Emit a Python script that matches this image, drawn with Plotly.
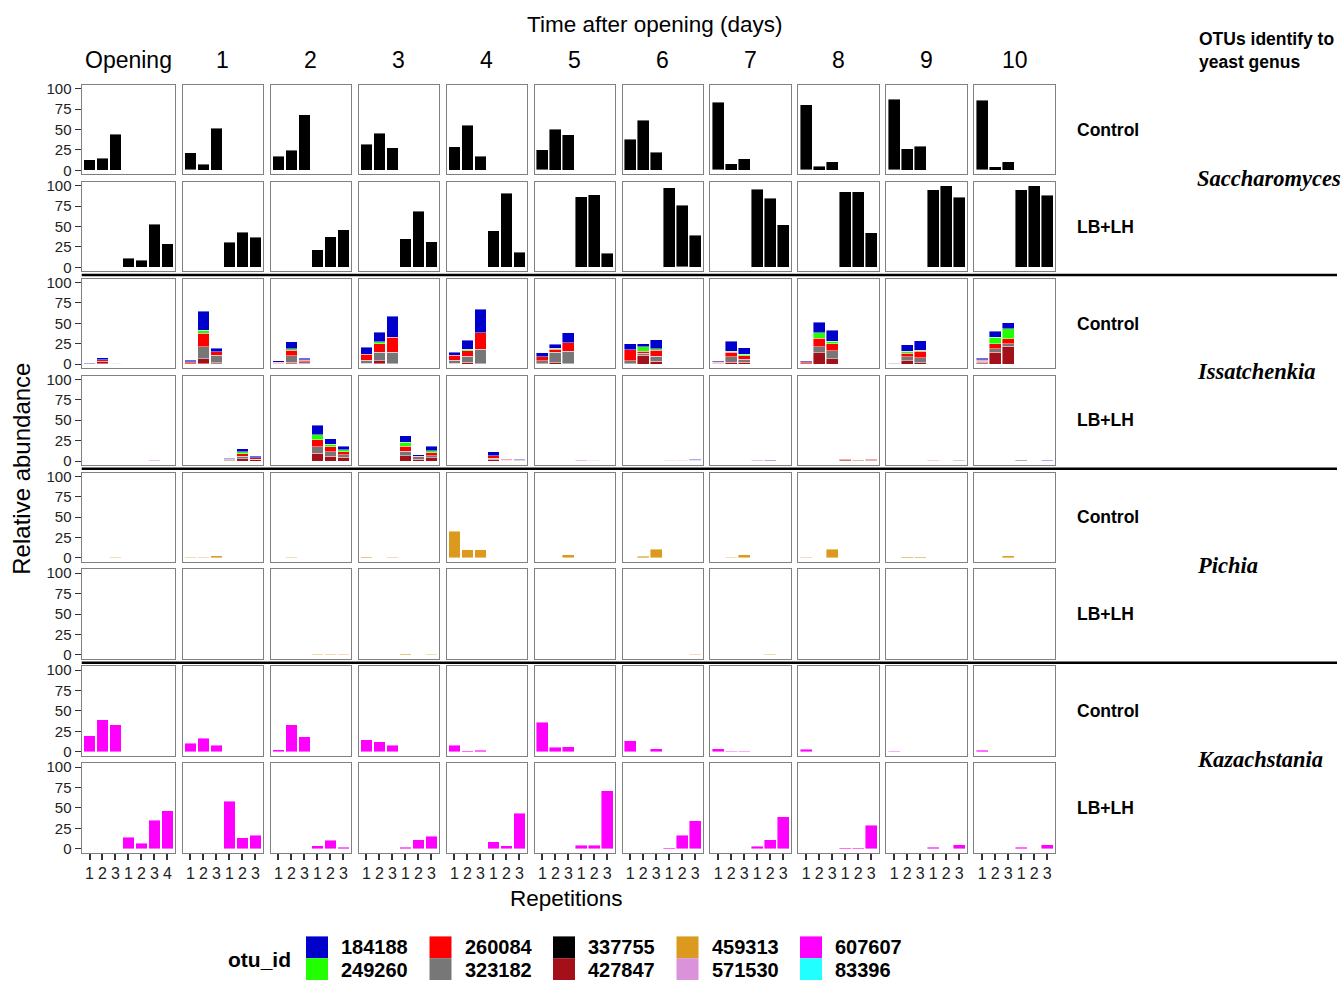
import plotly.graph_objects as go

W, H = 1344, 984

days = ["Opening", "1", "2", "3", "4", "5", "6", "7", "8", "9", "10"]
treatments = ["Control", "LB+LH"]
genera = ["Saccharomyces", "Issatchenkia", "Pichia", "Kazachstania"]

otu_ids = ["184188", "249260", "260084", "323182", "337755",
           "427847", "459313", "571530", "607607", "83396"]
otu_colors = ["#0000CC", "#22FF00", "#FF0000", "#777777", "#000000",
              "#A3101A", "#DB9A1E", "#DA93DA", "#FF00FF", "#22FFFF"]

# ---- Saccharomyces (one value list per day: replicates) ----
sacch_ctrl_337755 = [
    [13, 15, 44], [21, 7.6, 51.5], [17.3, 24.5, 68], [32, 45.4, 27.7],
    [28.9, 55, 17.3], [24.9, 50.2, 43.4], [37.8, 61.4, 22.1], [83.1, 8, 14.5],
    [79.9, 5.2, 10.4], [86.3, 26.5, 29.7], [85.5, 4.4, 10.4],
]
sacch_lblh_337755 = [
    [10.8, 8.4, 52.6, 28.9], [30.5, 43, 37], [21.3, 37.3, 45.8], [35, 68.3, 31.3],
    [44.6, 90.8, 18.5], [86.3, 88.8, 16.9], [97.6, 75.5, 39], [95.6, 84.3, 51.8],
    [92.4, 92.4, 42.2], [95.2, 99.6, 85.5], [94.8, 99.6, 88],
]
sacch_ctrl_83396 = [
    [0, 0, 0], [0.6, 0, 0], [0, 0, 0], [0, 0, 0], [0, 0, 0], [0.6, 0, 0],
    [0, 0, 0], [0.6, 0, 0], [0.6, 0, 0], [0.6, 0, 0], [0.6, 0, 0],
]
sacch_lblh_83396 = [
    [0, 0, 0, 0], [0, 0, 0], [0, 0, 0], [0, 0, 0], [0, 0, 0], [0, 0, 0],
    [0, 0.6, 0], [0, 0, 0], [0, 0, 0], [0, 0, 0], [0, 0, 0],
]

# ---- Issatchenkia ----
iss_ctrl_184188 = [
    [0.3, 2.5, 0], [2, 23.3, 4.3], [1.5, 8.4, 1.9], [8.5, 12, 26], [3.7, 11.6, 28.5],
    [4.8, 4.9, 12], [7.5, 3.4, 11.2], [1.2, 12, 8], [1.5, 12.9, 13.3],
    [0.5, 7.6, 12], [1.5, 7.2, 7.2],
]
iss_ctrl_249260 = [
    [0, 0, 0], [0, 3.6, 0], [0, 1.5, 0.3], [0, 2, 0], [0, 1.6, 0], [0, 1.5, 0],
    [0, 5.6, 1.6], [0, 1.2, 1.6], [0, 6.8, 2.8], [0, 2.4, 1.2], [0.5, 7.6, 12.4],
]
iss_ctrl_260084 = [
    [0, 2, 0.3], [1, 16.5, 4], [0.6, 7, 2], [7, 11, 18.5], [6.5, 6.8, 20.5],
    [5.2, 3.5, 10.4], [13.7, 2.4, 7.6], [0.5, 5.6, 4.4], [1.3, 10.4, 8.8],
    [0, 4.4, 8], [1.2, 6.4, 5.6],
]
iss_ctrl_323182 = [
    [0, 0, 0], [0.5, 14.9, 9.5], [0.5, 8, 2], [4, 10, 14], [3.5, 7.2, 17.7],
    [3.6, 13, 15.7], [3.7, 2.8, 6], [0.5, 6.8, 3.6], [0, 7.6, 10],
    [0, 5.2, 6], [1.5, 4, 3.6],
]
iss_ctrl_427847 = [
    [0, 3, 0], [1, 6, 1], [1, 2, 1], [0.7, 4, 0], [0.7, 2.4, 0], [0, 1.5, 0],
    [0, 10.8, 3.6], [1, 2.4, 2.4], [1, 13.7, 6.4], [0.7, 4, 1.6], [2, 14.9, 21.7],
]
iss_ctrl_571530 = [
    [0.8, 0.5, 1], [0.5, 0.5, 0.5], [0.3, 0.3, 0], [0.3, 0.3, 0.5], [0.3, 0, 0.5],
    [0.4, 0, 0.3], [0.3, 0, 0], [0.3, 0, 0], [0.5, 0, 0], [0.7, 0, 0], [0.3, 0, 0],
]
iss_lblh_184188 = [
    [0, 0, 0, 0], [0.6, 4, 1.6], [12, 6.8, 4.4], [7.6, 1.6, 5.6], [4.8, 0.8, 0.4],
    [0, 0.5, 0], [0.3, 0.3, 0.6], [0, 0.3, 0], [0, 0, 0.3], [0.3, 0, 0], [0, 0, 0.3],
]
iss_lblh_249260 = [
    [0, 0, 0, 0], [0, 2, 0], [5.6, 3.2, 2.4], [4.8, 0, 2.8], [0.3, 0, 0],
    [0, 0, 0], [0, 0, 0], [0, 0, 0], [0, 0, 0.8], [0, 0, 0], [0, 0, 0],
]
iss_lblh_260084 = [
    [0, 0, 0, 0], [0.5, 3.6, 2], [8.8, 6, 4], [6.4, 1, 3.6], [3, 0.8, 0],
    [0, 0, 0], [0.3, 0.3, 0.6], [0, 0, 0], [0.6, 0, 1], [0, 0, 0], [0, 0, 0],
]
iss_lblh_323182 = [
    [0, 0, 0, 0], [1.5, 2.8, 0.5], [8, 5.6, 3.2], [5.2, 2.5, 2.4], [1.5, 0.4, 0.8],
    [0, 0.3, 0], [0, 0, 0], [0, 0, 0], [0, 0, 0], [0, 0, 0.6], [0.9, 0, 0],
]
iss_lblh_427847 = [
    [0, 0, 0, 0], [1, 2.8, 1.5], [9.6, 6, 4.4], [6.8, 2.5, 4], [2, 0.8, 0.4],
    [0, 0, 0], [0, 0, 0], [0, 0, 0], [1, 0.3, 1], [0.6, 0, 0], [0, 0, 0],
]
iss_lblh_571530 = [
    [0, 0, 0.8, 0], [0, 0, 0], [0, 0, 0], [0, 0, 0], [0, 0, 0.4],
    [0.8, 0.5, 0.6], [0.6, 0.6, 0.8], [0.8, 0.5, 0.6], [0.4, 0.5, 0],
    [0.6, 0.4, 0.6], [0.6, 0.3, 0.6],
]

# ---- Pichia ----
pichia_ctrl_459313 = [
    [0.5, 0.3, 0.8], [0.8, 0.8, 3], [0, 0.8, 0.3], [1.2, 0.3, 0.6], [33, 10.2, 10.2],
    [0.5, 0.3, 3.8], [0.2, 2.2, 10.6], [0.3, 0.8, 3.8], [0.8, 0.2, 10.6],
    [0, 1.2, 1.2], [0.3, 0.3, 3],
]
pichia_lblh_459313 = [
    [0, 0, 0, 0], [0, 0, 0.3], [0.8, 0.5, 0.8], [1.2, 0.3, 0.5], [0, 0, 0.2],
    [0, 0.2, 0], [0.3, 0.3, 0.8], [0.3, 0.8, 0], [0, 0.2, 0.4], [0, 0.3, 0], [0, 0, 0],
]

# ---- Kazachstania ----
kaz_ctrl_607607 = [
    [19.4, 39.5, 33], [10.2, 16.6, 7.8], [2.5, 33, 18.2], [15, 12.2, 7.8],
    [8.2, 1.3, 2.1], [36.3, 5.7, 6.1], [13.8, 0.3, 3.7], [3.7, 0.5, 0.5],
    [2.9, 0.2, 0], [0.8, 0, 0], [1.7, 0, 0],
]
kaz_lblh_607607 = [
    [13.9, 6.7, 34.8, 46.5], [58.1, 13.5, 16.7], [3.5, 10.3, 1.9], [1.9, 11.1, 15.5],
    [8.3, 3.5, 43.6], [4.3, 4.3, 71], [1.1, 16.7, 34.4], [2.7, 10.7, 39.2],
    [1.1, 1.1, 28.8], [1.5, 0, 4.7], [1.5, 0, 5.1],
]

# panel rows: (genus, treatment, {otu: values per day})
panel_rows = [
    ("Saccharomyces", "Control", {"337755": sacch_ctrl_337755, "83396": sacch_ctrl_83396}),
    ("Saccharomyces", "LB+LH", {"337755": sacch_lblh_337755, "83396": sacch_lblh_83396}),
    ("Issatchenkia", "Control", {"184188": iss_ctrl_184188, "249260": iss_ctrl_249260,
                                 "260084": iss_ctrl_260084, "323182": iss_ctrl_323182,
                                 "427847": iss_ctrl_427847, "571530": iss_ctrl_571530}),
    ("Issatchenkia", "LB+LH", {"184188": iss_lblh_184188, "249260": iss_lblh_249260,
                               "260084": iss_lblh_260084, "323182": iss_lblh_323182,
                               "427847": iss_lblh_427847, "571530": iss_lblh_571530}),
    ("Pichia", "Control", {"459313": pichia_ctrl_459313}),
    ("Pichia", "LB+LH", {"459313": pichia_lblh_459313}),
    ("Kazachstania", "Control", {"607607": kaz_ctrl_607607}),
    ("Kazachstania", "LB+LH", {"607607": kaz_lblh_607607}),
]

n_lblh_reps = [4] + [3] * 10
y_ticks = [0, 25, 50, 75, 100]

# ---- geometry (pixels) ----
left0, gap, w6 = 81.7, 7.4, 80.57
w7 = w6 * 7.2 / 6.2
top0, pitch, ph = 80.7, 97.8, 90.3
y_range = [-5, 104.6]

col_spans = []
xc = left0
for c in range(len(days)):
    w = w7 if c == 0 else w6
    col_spans.append((xc, xc + w))
    xc += w + gap

def fx(px):
    return px / W

def fy(px):
    return 1 - px / H

FONT = "Liberation Sans"
BORDER = "#808080"
TICKC = "#333333"

fig = go.Figure()
layout_axes = {}
color_of = dict(zip(otu_ids, otu_colors))

for r, (genus, treat, series) in enumerate(panel_rows):
    top = top0 + r * pitch
    for c, day in enumerate(days):
        k = r * len(days) + c + 1
        sx = "" if k == 1 else str(k)
        ctrl_cats = ["Control %d" % i for i in (1, 2, 3)]
        lblh_cats = ["LB+LH %d" % i for i in range(1, n_lblh_reps[c] + 1)]
        cats = ctrl_cats + lblh_cats
        labels = ["1", "2", "3"] + [str(i) for i in range(1, n_lblh_reps[c] + 1)]
        bar_cats = ctrl_cats if treat == "Control" else lblh_cats
        # empty placeholder so every panel frame is drawn, even without bars
        fig.add_trace(go.Scatter(x=cats, y=[None] * len(cats), mode="markers",
                                 xaxis="x" + sx, yaxis="y" + sx,
                                 showlegend=False, hoverinfo="skip"))
        # ggplot stacks the first factor level on top: add in reverse order
        for otu in reversed(otu_ids):
            if otu not in series:
                continue
            vals = [v if v > 0 else None for v in series[otu][c]]
            if all(v is None for v in vals):
                continue
            fig.add_trace(go.Bar(
                x=bar_cats, y=vals, width=0.9,
                marker=dict(color=color_of[otu],
                            line=dict(color="rgba(255,255,255,0.85)", width=0.5)),
                xaxis="x" + sx, yaxis="y" + sx,
                showlegend=False, hoverinfo="skip",
            ))
        x0, x1 = col_spans[c]
        bottom_row = (r == len(panel_rows) - 1)
        layout_axes["xaxis" + sx] = dict(
            domain=[fx(x0), fx(x1)], anchor="y" + sx,
            type="category", categoryorder="array", categoryarray=cats,
            range=[-0.6, len(cats) - 0.4],
            showline=True, mirror=True, linecolor=BORDER, linewidth=1.3,
            showgrid=False, zeroline=False, fixedrange=True,
            tickmode="array", tickvals=cats, ticktext=labels,
            ticks="outside" if bottom_row else "",
            ticklen=6, tickwidth=1.6, tickcolor=TICKC,
            showticklabels=bottom_row,
            tickfont=dict(family=FONT, size=16, color="#222222"),
        )
        layout_axes["yaxis" + sx] = dict(
            domain=[fy(top + ph), fy(top)], anchor="x" + sx,
            range=y_range,
            showline=True, mirror=True, linecolor=BORDER, linewidth=1.3,
            showgrid=False, zeroline=False, fixedrange=True,
            tickmode="array", tickvals=y_ticks,
            ticks="outside" if c == 0 else "",
            ticklen=6, tickwidth=1.2, tickcolor=TICKC,
            showticklabels=(c == 0),
            tickfont=dict(family=FONT, size=15, color="#222222"),
        )

annotations = []
shapes = []

# title and column strips
annotations.append(dict(text="Time after opening (days)", x=fx(655), y=fy(20),
                        font=dict(size=22.5)))
for c, day in enumerate(days):
    x0, x1 = col_spans[c]
    annotations.append(dict(text=day, x=fx((x0 + x1) / 2), y=fy(56), font=dict(size=23)))

# row labels
for r, (genus, treat, _) in enumerate(panel_rows):
    yc = top0 + r * pitch + ph / 2
    annotations.append(dict(text="<b>%s</b>" % treat, x=fx(1075), y=fy(yc),
                            xanchor="left", font=dict(size=17.5)))

# genus labels and group separators
for g, genus in enumerate(genera):
    y_top = top0 + 2 * g * pitch
    yc = (y_top + y_top + pitch + ph) / 2
    annotations.append(dict(text="<b><i>%s</i></b>" % genus, x=fx(1195), y=fy(yc),
                            xanchor="left",
                            font=dict(family="Liberation Serif", size=22.5)))
    if g > 0:
        ys = y_top - (pitch - ph) / 2
        shapes.append(dict(type="line", xref="paper", yref="paper",
                           x0=fx(left0), x1=fx(1337), y0=fy(ys), y1=fy(ys),
                           line=dict(color="black", width=2.5)))

annotations.append(dict(text="<b>OTUs identify to</b>", x=fx(1197), y=fy(34),
                        xanchor="left", font=dict(size=17.5)))
annotations.append(dict(text="<b>yeast genus</b>", x=fx(1197), y=fy(58),
                        xanchor="left", font=dict(size=17.5)))

# axis titles
annotations.append(dict(text="Relative abundance", x=fx(22), y=fy(468),
                        textangle=-90, font=dict(size=24)))
annotations.append(dict(text="Repetitions", x=fx(566), y=fy(902), font=dict(size=22.5)))

# legend for the OTU fill colours
annotations.append(dict(text="<b>otu_id</b>", x=fx(293), y=fy(963), xanchor="right",
                        font=dict(size=21)))
sw = 22
for i, (otu, col) in enumerate(zip(otu_ids, otu_colors)):
    lc, lr = divmod(i, 2)
    sx0 = 306 + lc * 123.5
    sy0 = 940 + lr * sw
    shapes.append(dict(type="rect", xref="paper", yref="paper",
                       x0=fx(sx0), x1=fx(sx0 + sw), y0=fy(sy0 + sw), y1=fy(sy0),
                       fillcolor=col, line=dict(width=0)))
    annotations.append(dict(text="<b>%s</b>" % otu, x=fx(sx0 + 33),
                            y=fy(950.5 + lr * 23.2),
                            xanchor="left", font=dict(size=20)))

for a in annotations:
    a.setdefault("xref", "paper")
    a.setdefault("yref", "paper")
    a.setdefault("showarrow", False)
    a.setdefault("xanchor", "center")
    a.setdefault("yanchor", "middle")
    a["font"] = dict({"family": FONT, "color": "black"}, **a["font"])

fig.update_layout(
    width=W, height=H, autosize=False,
    margin=dict(l=0, r=0, t=0, b=0),
    paper_bgcolor="white", plot_bgcolor="white",
    barmode="stack", bargap=0.1,
    font=dict(family=FONT, color="black"),
    annotations=annotations, shapes=shapes,
    showlegend=False,
    **layout_axes,
)

fig.write_html("out.html", config={"displayModeBar": False})
